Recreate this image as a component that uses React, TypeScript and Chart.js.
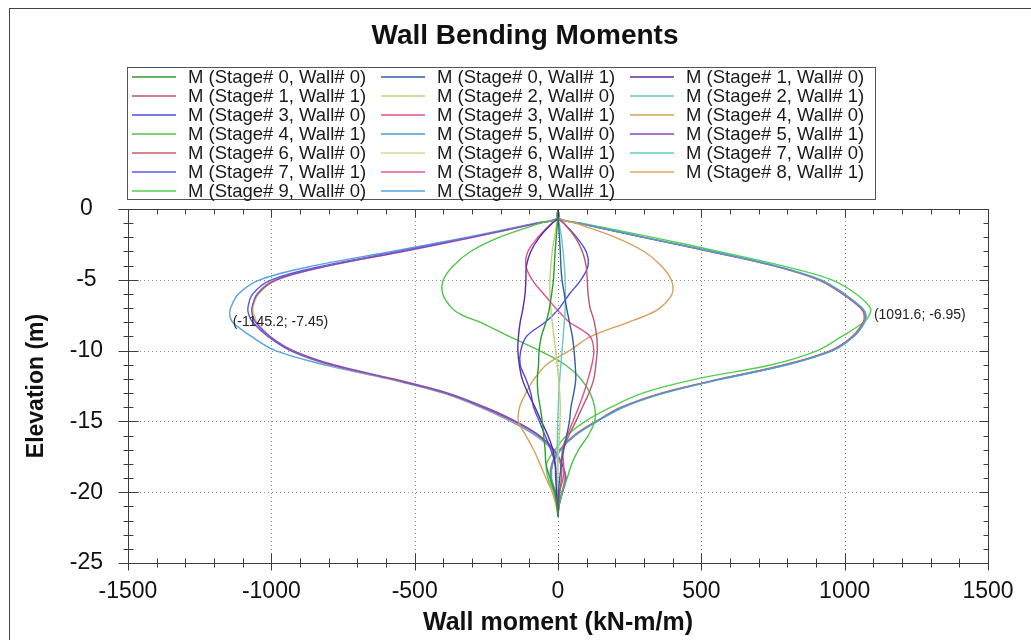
import React, { useEffect, useRef } from 'react';
import { Chart, registerables } from 'chart.js';

Chart.register(...registerables);

// ---------------- DATA ----------------
const TITLE = 'Wall Bending Moments';
const X_TITLE = 'Wall moment (kN-m/m)';
const Y_TITLE = 'Elevation (m)';

const X_MIN = -1500;
const X_MAX = 1500;
const X_STEP = 500;
const X_MINOR = 100;
const Y_MIN = -25;
const Y_MAX = 0;
const Y_STEP = 5;
const Y_MINOR = 1;

// shared elevation stations (m)
const ELEV = [0, -0.65, -1, -2, -3, -4, -5, -6, -7, -7.5, -8, -9, -10, -11, -12, -13, -14, -15, -16, -17, -18, -19, -20, -21, -21.7];

const SERIES_LABELS = [
  'M (Stage# 0, Wall# 0)', 'M (Stage# 0, Wall# 1)', 'M (Stage# 1, Wall# 0)',
  'M (Stage# 1, Wall# 1)', 'M (Stage# 2, Wall# 0)', 'M (Stage# 2, Wall# 1)',
  'M (Stage# 3, Wall# 0)', 'M (Stage# 3, Wall# 1)', 'M (Stage# 4, Wall# 0)',
  'M (Stage# 4, Wall# 1)', 'M (Stage# 5, Wall# 0)', 'M (Stage# 5, Wall# 1)',
  'M (Stage# 6, Wall# 0)', 'M (Stage# 6, Wall# 1)', 'M (Stage# 7, Wall# 0)',
  'M (Stage# 7, Wall# 1)', 'M (Stage# 8, Wall# 0)', 'M (Stage# 8, Wall# 1)',
  'M (Stage# 9, Wall# 0)', 'M (Stage# 9, Wall# 1)',
];

// moments (kN-m/m) at each ELEV station
const M_S0W0 = [0, 0, -2, -6, -10, -13, -16, -22, -30, -35, -42, -58, -66, -68, -72, -70, -62, -55, -50, -45, -42, -28, -12, -3, 0];
const M_S0W1 = [0, 0, 2, 5, 8, 10, 14, 22, 30, 35, 40, 50, 56, 60, 62, 55, 45, 40, 30, 20, 12, 6, 2, 0, 0];
const M_S1W0 = [0, 0, -20, -65, -95, -110, -112, -115, -122, -127, -132, -138, -140, -135, -125, -105, -80, -58, -35, -18, -10, -8, -5, -2, 0];
const M_S1W1 = [0, 0, 20, 60, 85, 98, 102, 105, 112, 120, 127, 135, 137, 132, 125, 108, 85, 62, 38, 18, 10, 12, 6, 2, 0];
const M_S2W0 = [0, 0, -4, -12, -20, -25, -28, -28, -25, -23, -20, -14, -8, -3, 2, 6, 8, 7, 5, 2, 0, -3, -3, -1, 0];
const M_S2W1 = [0, 0, 4, 12, 18, 22, 25, 26, 25, 24, 22, 18, 14, 10, 6, 3, 1, -1, -2, -3, -2, -1, 0, 0, 0];
const M_S3W0 = [0, 0, 20, 65, 98, 105, 80, 40, 5, -18, -45, -110, -130, -132, -112, -95, -85, -65, -45, -25, -10, -5, -2, 0, 0];
const M_S3W1 = [0, 0, -22, -70, -105, -112, -90, -50, -8, 15, 40, 112, 125, 118, 105, 90, 72, 52, 32, 15, 20, 18, 5, 0, 0];
const M_S4W0 = [0, 0, 60, 200, 300, 360, 395, 398, 355, 310, 245, 115, 40, -40, -83, -112, -134, -138, -112, -85, -63, -42, -20, -6, 0];
const M_S4W1 = [0, 0, -60, -205, -305, -365, -400, -402, -370, -335, -270, -170, -65, 25, 80, 112, 128, 128, 105, 72, 48, 32, 14, 3, 0];
const M_S5W0 = [0, 0, 73, 300, 535, 755, 915, 998, 1060, 1073, 1069, 1031, 957, 798, 572, 368, 226, 136, 59, 9, -19, -24, -9, -2, 0];
const M_S5W1 = [0, 0, -70, -298, -542, -798, -982, -1048, -1068, -1066, -1055, -1005, -925, -785, -575, -385, -255, -148, -65, -14, 14, 26, 14, 3, 0];
const M_S6W0 = [0, 0, 70, 296, 530, 748, 908, 992, 1055, 1068, 1064, 1026, 950, 790, 565, 360, 220, 132, 55, 6, -22, -26, -10, -2, 0];
const M_S6W1 = [0, 0, -68, -295, -538, -795, -978, -1044, -1064, -1062, -1052, -1002, -922, -782, -572, -382, -252, -146, -64, -14, 12, 24, 13, 2, 0];
const M_S7W0 = [0, 0, 74, 301, 537, 758, 918, 1000, 1062, 1075, 1070, 1032, 958, 800, 575, 370, 228, 138, 60, 10, -18, -22, -8, -2, 0];
const M_S7W1 = [0, 0, -72, -305, -555, -815, -1000, -1065, -1082, -1078, -1065, -1012, -932, -792, -582, -392, -262, -152, -68, -15, 12, 28, 16, 3, 0];
const M_S8W0 = [0, 0, 72, 299, 533, 752, 912, 995, 1058, 1072, 1068, 1030, 955, 795, 570, 365, 225, 135, 58, 8, -20, -25, -10, -2, 0];
const M_S8W1 = [0, 0, -72, -302, -548, -805, -990, -1050, -1065, -1060, -1050, -1005, -935, -800, -590, -398, -268, -158, -72, -18, 8, 22, 14, 2, 0];
const M_S9W0 = [0, 0, 82, 330, 560, 780, 955, 1040, 1090, 1086, 1066, 990, 905, 745, 485, 295, 185, 95, 30, -10, -40, -35, -15, -3, 0];
const M_S9W1 = [0, 0, -80, -320, -580, -850, -1040, -1115, -1142, -1145, -1135, -1070, -985, -815, -590, -400, -270, -165, -78, -20, 10, 25, 15, 3, 0];

const SERIES_VALUES = [
  M_S0W0, M_S0W1, M_S1W0, M_S1W1, M_S2W0, M_S2W1, M_S3W0, M_S3W1, M_S4W0, M_S4W1,
  M_S5W0, M_S5W1, M_S6W0, M_S6W1, M_S7W0, M_S7W1, M_S8W0, M_S8W1, M_S9W0, M_S9W1,
];

// extreme value annotations [moment, elevation]
const PEAK_MIN = [-1145.2, -7.45];
const PEAK_MAX = [1091.6, -6.95];

// ---------------- STYLE ----------------
const COLORS = [
  '#2e9a2e', '#2d5fa8', '#5a2aa8', '#b8586e', '#b5d67a', '#6cc7bd', '#4b4be0',
  '#e0508c', '#d9a058', '#4cc44c', '#4a9ad6', '#8a44c4', '#d05a6c', '#c4e08c',
  '#5cd0bc', '#5a5ae6', '#e8559a', '#e0a860', '#4ed04e', '#52a4e4',
];

const FONT = "'Liberation Sans', Arial, Helvetica, sans-serif";
const W = 1031;
const H = 640;

const decorPlugin = {
  id: 'decor',
  beforeDraw(chart: any) {
    const ctx = chart.ctx;
    ctx.save();
    ctx.fillStyle = '#ffffff';
    ctx.fillRect(0, 0, chart.width, chart.height);
    ctx.restore();
  },
  beforeDatasetsDraw(chart: any) {
    const ctx = chart.ctx;
    const { left, right, top, bottom } = chart.chartArea;
    const xs = chart.scales.x;
    const ys = chart.scales.y;
    ctx.save();
    ctx.strokeStyle = '#8a8a8a';
    ctx.lineWidth = 1;
    ctx.setLineDash([1, 3]);
    xs.ticks.forEach((t: any) => {
      if (t.value <= X_MIN || t.value >= X_MAX) return;
      const px = Math.round(xs.getPixelForValue(t.value)) + 0.5;
      ctx.beginPath();
      ctx.moveTo(px, top);
      ctx.lineTo(px, bottom);
      ctx.stroke();
    });
    ys.ticks.forEach((t: any) => {
      if (t.value <= Y_MIN || t.value >= Y_MAX) return;
      const py = Math.round(ys.getPixelForValue(t.value)) + 0.5;
      ctx.beginPath();
      ctx.moveTo(left, py);
      ctx.lineTo(right, py);
      ctx.stroke();
    });
    ctx.restore();
  },
  afterDatasetsDraw(chart: any) {
    const ctx = chart.ctx;
    const { left, right, top, bottom } = chart.chartArea;
    const xs = chart.scales.x;
    const ys = chart.scales.y;
    ctx.save();
    ctx.strokeStyle = '#3c3c3c';
    ctx.lineWidth = 1;
    ctx.strokeRect(Math.round(left) + 0.5, Math.round(top) + 0.5, Math.round(right - left), Math.round(bottom - top));
    const nx = Math.round((X_MAX - X_MIN) / X_MINOR);
    for (let i = 0; i <= nx; i++) {
      const v = X_MIN + i * X_MINOR;
      const major = Math.abs(v % X_STEP) < 1e-6;
      const px = Math.round(xs.getPixelForValue(v)) + 0.5;
      const b = Math.round(bottom) + 0.5;
      const t = Math.round(top) + 0.5;
      ctx.beginPath();
      ctx.moveTo(px, b - (major ? 10 : 5));
      ctx.lineTo(px, b + (major ? 7 : 4));
      ctx.moveTo(px, t);
      ctx.lineTo(px, t + (major ? 8 : 5));
      ctx.stroke();
    }
    const ny = Math.round((Y_MAX - Y_MIN) / Y_MINOR);
    for (let i = 0; i <= ny; i++) {
      const v = Y_MIN + i * Y_MINOR;
      const major = Math.abs(v % Y_STEP) < 1e-6;
      const py = Math.round(ys.getPixelForValue(v)) + 0.5;
      const l = Math.round(left) + 0.5;
      const r = Math.round(right) + 0.5;
      ctx.beginPath();
      ctx.moveTo(l - (major ? 10 : 5), py);
      ctx.lineTo(l + (major ? 10 : 5), py);
      ctx.moveTo(r, py);
      ctx.lineTo(r - (major ? 9 : 5), py);
      ctx.stroke();
    }
    ctx.fillStyle = '#222222';
    ctx.font = `14px ${FONT}`;
    ctx.textBaseline = 'top';
    ctx.textAlign = 'left';
    [PEAK_MIN, PEAK_MAX].forEach((p) => {
      const px = xs.getPixelForValue(p[0]);
      const py = ys.getPixelForValue(p[1]);
      ctx.fillText(`(${String(p[0])}; ${String(p[1])})`, px + 3, py + 1);
    });
    ctx.restore();
  },
  afterDraw(chart: any) {
    const ctx = chart.ctx;
    ctx.save();
    ctx.strokeStyle = '#444444';
    ctx.lineWidth = 1;
    ctx.strokeRect(9.5, 8.5, 1200, 800);
    ctx.fillStyle = '#111111';
    ctx.font = `bold 28px ${FONT}`;
    ctx.textAlign = 'center';
    ctx.textBaseline = 'middle';
    ctx.fillText(TITLE, 525, 36);
    const bx = 127.5, by = 67.5, bw = 748, bh = 132;
    ctx.strokeStyle = '#555555';
    ctx.strokeRect(bx, by, bw, bh);
    ctx.font = `18.5px ${FONT}`;
    ctx.textAlign = 'left';
    ctx.textBaseline = 'middle';
    chart.data.datasets.forEach((ds: any, i: number) => {
      const col = i % 3;
      const row = Math.floor(i / 3);
      const x0 = 132 + col * 249;
      const y0 = 77 + row * 19;
      ctx.strokeStyle = ds.borderColor;
      ctx.lineWidth = 1.6;
      ctx.beginPath();
      ctx.moveTo(x0, y0);
      ctx.lineTo(x0 + 44, y0);
      ctx.stroke();
      ctx.fillStyle = '#1a1a1a';
      ctx.fillText(ds.label, x0 + 56, y0 + 0.5);
    });
    ctx.restore();
  },
};

export default function App() {
  const ref = useRef<HTMLCanvasElement | null>(null);

  useEffect(() => {
    if (!ref.current) return;
    const datasets = SERIES_VALUES.map((vals, i) => ({
      label: SERIES_LABELS[i],
      data: ELEV.map((e, k) => ({ x: vals[k], y: e })),
      borderColor: COLORS[i],
      backgroundColor: COLORS[i],
      borderWidth: 1.4,
      pointRadius: 0,
      showLine: true,
      fill: false,
      tension: 0.35,
    }));

    const chart = new Chart(ref.current, {
      type: 'scatter',
      data: { datasets },
      plugins: [decorPlugin],
      options: {
        animation: false,
        responsive: false,
        maintainAspectRatio: false,
        devicePixelRatio: 1,
        layout: { padding: { top: 209, left: 0, right: 43, bottom: 0 } },
        plugins: {
          legend: { display: false },
          title: { display: false },
          tooltip: { enabled: false },
        },
        events: [],
        scales: {
          x: {
            type: 'linear',
            position: 'bottom',
            min: X_MIN,
            max: X_MAX,
            grid: { display: false, drawTicks: false },
            border: { display: false },
            ticks: {
              stepSize: X_STEP,
              autoSkip: false,
              maxRotation: 0,
              padding: 15,
              color: '#111111',
              font: { family: FONT, size: 23 },
              callback: (v: any) => String(v),
            },
            title: {
              display: true,
              text: X_TITLE,
              color: '#111111',
              font: { family: FONT, size: 25, weight: 'bold' },
              padding: { top: 0, bottom: 2 },
            },
            afterFit: (s: any) => { s.height = 77; },
          },
          y: {
            type: 'linear',
            position: 'left',
            min: Y_MIN,
            max: Y_MAX,
            grid: { display: false, drawTicks: false },
            border: { display: false },
            ticks: {
              stepSize: Y_STEP,
              autoSkip: false,
              padding: 25,
              crossAlign: 'center',
              color: '#111111',
              font: { family: FONT, size: 23 },
              callback: (v: any) => String(v),
            },
            title: {
              display: true,
              text: Y_TITLE,
              color: '#111111',
              font: { family: FONT, size: 23, weight: 'bold' },
              padding: { top: 23, bottom: 0 },
            },
            afterFit: (s: any) => { s.width = 128; },
          },
        },
      } as any,
    });
    return () => chart.destroy();
  }, []);

  return (
    <div style={{ position: 'fixed', left: 0, top: 0, width: W, height: H, background: '#fff' }}>
      <canvas ref={ref} width={W} height={H} style={{ display: 'block', width: W, height: H }} />
    </div>
  );
}
